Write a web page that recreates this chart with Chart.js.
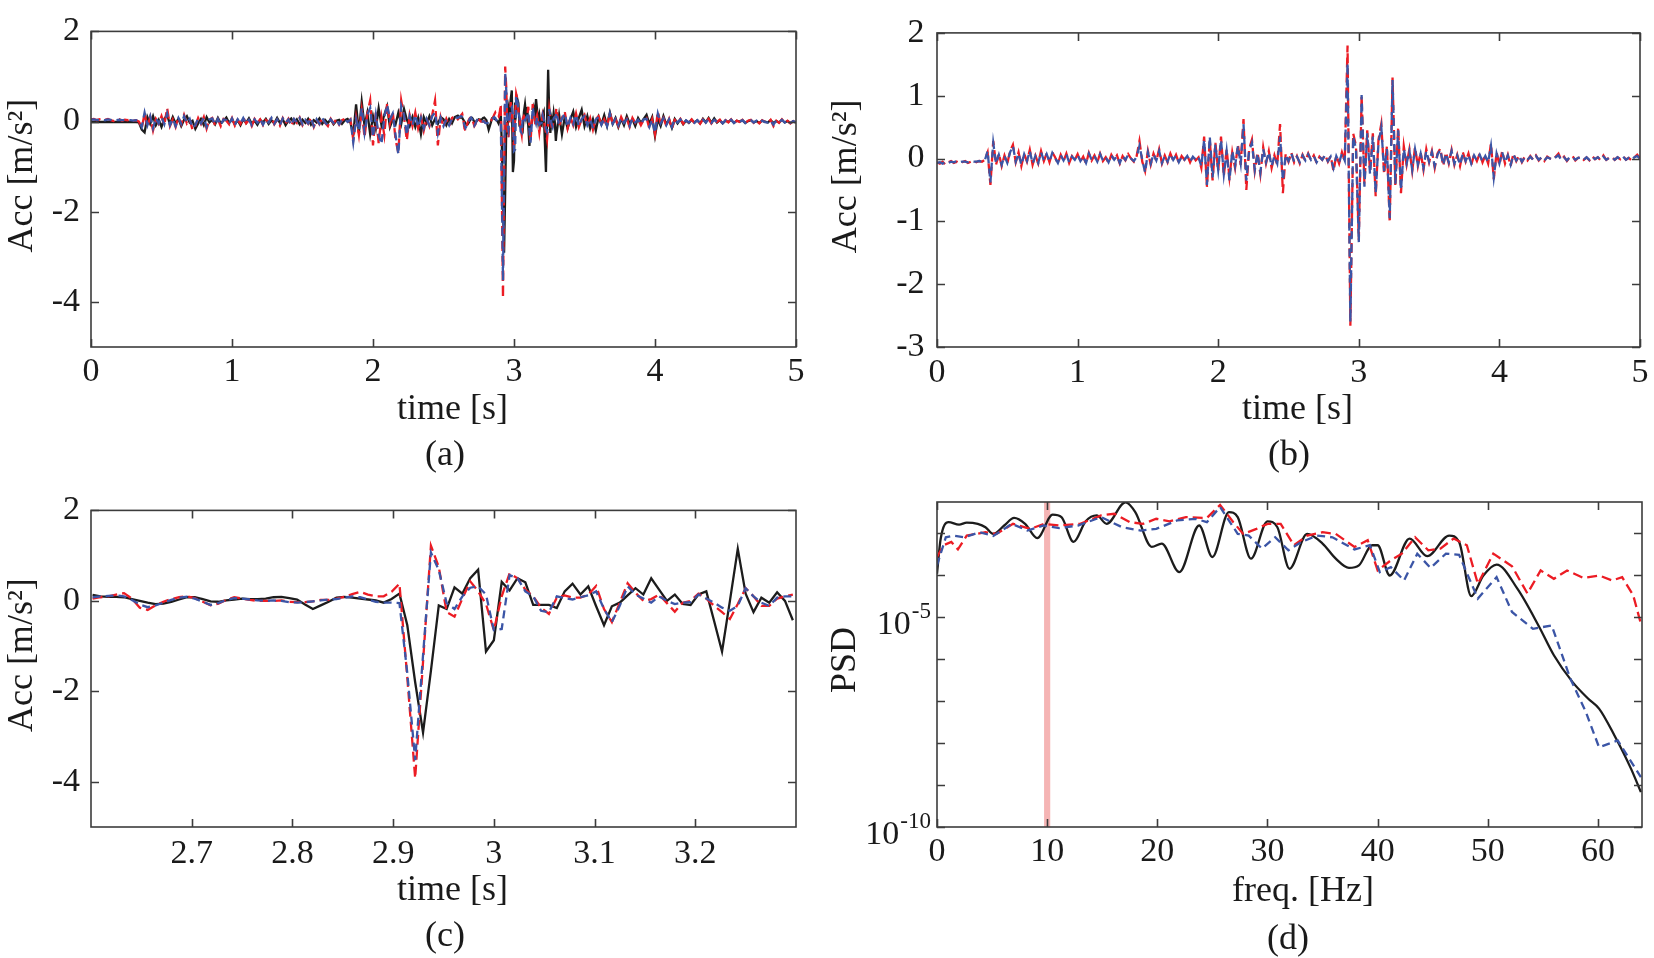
<!DOCTYPE html>
<html>
<head>
<meta charset="utf-8">
<script src="https://cdn.jsdelivr.net/npm/chart.js@4.4.0/dist/chart.umd.min.js"></script>
<style>
  body { margin: 0; background: #fff; width: 1654px; height: 958px; position: relative; overflow: hidden; }
  canvas { position: absolute; }
  .tag { position: absolute; width: 200px; text-align: center; font: 36px/36px 'Liberation Serif', serif; color: #1a1a1a; }
</style>
</head>
<body>
<canvas id="pa" width="827" height="479" style="left:0;top:0"></canvas>
<canvas id="pb" width="827" height="479" style="left:827px;top:0"></canvas>
<canvas id="pc" width="827" height="479" style="left:0;top:479px"></canvas>
<canvas id="pd" width="827" height="479" style="left:827px;top:479px"></canvas>
<div class="tag" style="left:345px;top:435px">(a)</div>
<div class="tag" style="left:1189px;top:435px">(b)</div>
<div class="tag" style="left:345px;top:916px">(c)</div>
<div class="tag" style="left:1188px;top:919px">(d)</div>
<script>
// sampling used for the time histories
const coarseStep = 0.02;          // s, read-off step outside the zoomed window
const fineStart = 333 / 128;      // first 128 Hz sample inside 2.6 ... 3.3 s
const fineStep = 1 / 128;
const postStart = 3.30;

// ---- panel (a) black / red / blue, 0.00 ... 2.58 s
const blackPre = [
  -0.01,-0.01,-0.01,-0.01,-0.01,-0.01,-0.01,-0.01,-0.01,-0.01,
  -0.01,-0.01,-0.01,-0.01,-0.01,-0.01,-0.01,-0.02,-0.18,-0.24,
  0.10,-0.05,0.12,-0.08,0.04,-0.12,0.06,0.14,-0.06,0.10,
  -0.04,0.06,-0.10,0.04,0.12,-0.02,0.02,-0.16,-0.04,0.06,
  -0.08,0.10,-0.02,0.04,-0.06,0.08,-0.04,0.02,0.09,-0.03,
  0.05,-0.06,0.03,-0.08,0.05,-0.03,0.07,-0.05,0.02,-0.07,
  0.04,-0.02,0.06,-0.05,0.03,-0.04,0.08,-0.03,0.05,-0.08,
  0.02,0.07,-0.04,0.05,-0.06,0.04,-0.03,0.06,-0.07,0.03,
  -0.02,0.07,-0.05,0.04,-0.03,0.05,-0.06,0.02,0.04,-0.05,
  0.03,0.06,-0.02,-0.30,0.38,-0.25,0.44,-0.10,0.20,-0.28,
  0.12,-0.15,0.30,-0.08,0.15,0.34,-0.12,0.05,-0.06,0.20,
  -0.05,0.28,0.04,-0.10,0.10,-0.12,0.08,-0.28,0.10,-0.04,
  0.12,-0.08,0.06,-0.05,0.10,0.05,-0.08,0.06,-0.04,0.10
];
const redPre = [
  0.05,0.06,0.03,0.05,0.02,0.04,0.06,0.03,0.01,0.04,
  0.05,0.02,0.04,0.03,0.05,0.02,0.03,0.00,-0.15,0.18,
  -0.12,0.10,-0.20,0.06,-0.05,0.12,-0.08,0.30,-0.10,0.05,
  -0.12,0.10,-0.06,0.15,-0.04,0.05,-0.18,-0.10,0.08,-0.05,
  0.10,-0.16,0.04,0.08,-0.08,0.05,-0.10,0.06,0.02,-0.06,
  0.08,-0.09,0.04,-0.05,0.10,-0.04,0.03,-0.10,0.06,-0.03,
  0.05,-0.08,0.04,-0.02,0.10,-0.06,0.04,-0.09,0.08,-0.04,
  0.06,-0.10,0.05,-0.03,0.09,-0.08,0.03,-0.05,0.10,-0.12,
  0.04,-0.06,0.09,-0.03,-0.10,0.06,-0.04,0.05,-0.07,0.03,
  0.06,-0.02,0.05,-0.40,0.10,-0.30,0.25,-0.35,0.18,0.47,
  -0.53,0.20,-0.48,0.10,-0.30,0.40,-0.05,0.22,-0.40,-0.70,
  0.47,0.10,-0.42,0.15,-0.10,0.20,-0.15,0.10,-0.20,0.08,
  -0.10,0.15,0.47,-0.53,0.10,-0.12,0.06,-0.10,0.08,0.12
];
const bluePre = [
  0.04,0.05,0.04,0.03,0.04,0.03,0.05,0.04,0.02,0.03,
  0.04,0.03,0.03,0.04,0.03,0.02,0.03,0.01,-0.12,0.20,
  -0.08,0.12,-0.15,0.08,-0.04,0.10,-0.06,0.18,-0.08,0.06,
  -0.10,0.08,-0.05,0.12,-0.03,0.06,-0.14,-0.08,0.07,-0.04,
  0.09,-0.12,0.05,0.07,-0.07,0.06,-0.08,0.05,0.03,-0.05,
  0.07,-0.08,0.05,-0.04,0.08,-0.04,0.04,-0.08,0.05,-0.03,
  0.06,-0.07,0.05,-0.02,0.08,-0.05,0.05,-0.08,0.07,-0.03,
  0.05,-0.08,0.06,-0.02,0.08,-0.06,0.04,-0.04,0.08,-0.10,
  0.05,-0.05,0.08,-0.02,-0.08,0.05,-0.03,0.04,-0.06,0.04,
  0.05,-0.01,0.04,-0.46,0.05,-0.20,0.30,-0.25,0.15,0.30,
  -0.35,0.15,-0.30,-0.50,0.10,0.37,0.05,0.18,-0.30,-0.73,
  0.35,0.15,-0.30,0.12,-0.08,0.15,-0.12,0.08,-0.15,0.06,
  -0.08,0.12,0.20,-0.25,0.08,-0.10,0.05,-0.08,0.06,0.10
];

// ---- 128 Hz window 2.60 ... 3.30 s (panel (c), also used in (a))
const blackWin = [
  0.13,0.10,0.09,0.09,0.08,0.04,0.00,-0.04,-0.07,-0.06,
  -0.02,0.03,0.08,0.08,0.04,-0.01,-0.02,0.01,0.03,0.05,
  0.04,0.04,0.05,0.08,0.09,0.06,0.03,-0.08,-0.18,-0.10,
  -0.02,0.07,0.09,0.07,0.05,0.03,0.01,-0.04,0.04,0.16,
  -0.54,-1.80,-2.91,-1.55,-0.10,-0.18,0.30,0.16,0.50,0.69,
  -1.12,-0.87,0.42,0.23,0.50,0.41,-0.09,-0.09,-0.09,-0.16,
  0.21,0.38,0.14,0.32,-0.12,-0.54,-0.12,-0.04,0.12,0.28,
  0.14,0.50,0.25,0.00,0.14,-0.07,-0.09,0.14,0.21,-0.45,
  -1.12,0.00,1.15,0.16,-0.25,0.07,-0.04,0.19,0.00,-0.43
];
const redWin = [
  0.05,0.08,0.10,0.14,0.17,0.05,-0.15,-0.20,-0.10,-0.02,
  0.04,0.08,0.10,0.06,-0.02,-0.10,-0.06,0.02,0.08,0.05,
  0.02,0.00,0.00,0.00,0.01,-0.02,-0.03,-0.03,-0.01,0.02,
  0.02,0.05,0.09,0.15,0.20,0.14,0.10,0.10,0.20,0.38,
  -1.70,-3.92,-1.35,1.22,0.75,-0.25,-0.35,0.05,0.43,0.21,
  -0.07,-0.65,0.10,0.61,0.50,0.25,0.10,-0.15,-0.29,0.07,
  0.12,0.07,0.07,0.14,0.33,-0.18,-0.47,-0.04,0.39,0.18,
  0.00,0.04,0.14,-0.05,-0.24,-0.04,0.00,0.16,0.05,-0.11,
  -0.25,-0.40,-0.07,0.28,0.10,-0.11,-0.11,0.05,0.10,0.14
];
const blueWin = [
  0.08,0.10,0.11,0.12,0.10,0.02,-0.08,-0.14,-0.10,-0.04,
  0.02,0.07,0.09,0.05,-0.02,-0.09,-0.05,0.02,0.06,0.05,
  0.03,0.01,0.00,0.01,0.00,-0.03,-0.04,-0.03,-0.01,0.01,
  0.03,0.04,0.07,0.10,0.08,0.03,-0.02,-0.04,-0.04,-0.05,
  -1.60,-3.52,-1.20,1.07,0.68,-0.05,-0.18,0.10,0.29,0.32,
  0.14,-0.65,-0.62,0.57,0.50,0.21,0.10,-0.22,-0.25,0.10,
  0.06,0.03,0.08,0.12,0.21,-0.18,-0.47,-0.11,0.32,0.14,
  0.05,-0.04,0.10,0.00,-0.07,-0.04,-0.03,0.14,0.05,-0.04,
  -0.15,-0.22,-0.11,0.28,0.10,-0.04,-0.11,0.07,0.10,0.10
];

// ---- panel (a), 3.30 ... 5.00 s
const blackPost = [
  -0.30,0.15,-0.28,0.10,-0.15,0.05,0.22,-0.12,0.08,0.26,
  -0.10,0.12,-0.15,0.05,-0.20,0.10,-0.06,0.14,-0.10,0.20,
  -0.05,0.08,-0.12,0.06,-0.08,0.12,-0.04,0.05,-0.10,0.08,
  -0.03,0.06,0.15,-0.05,0.10,-0.32,0.05,-0.10,0.12,-0.06,
  0.04,-0.14,0.06,-0.04,0.05,-0.06,0.02,-0.03,0.04,-0.02,
  0.03,-0.04,0.06,-0.02,0.08,-0.03,0.07,-0.02,0.03,-0.04,
  0.02,-0.01,0.04,-0.03,0.02,0.00,0.03,-0.03,0.01,0.03,
  -0.02,0.01,-0.03,0.02,0.00,-0.02,0.03,-0.03,0.01,-0.02,
  0.04,-0.02,0.01,-0.03,0.00,-0.02
];
const redPost = [
  0.30,-0.10,0.08,0.22,-0.15,0.10,-0.08,0.18,-0.12,0.05,
  0.15,-0.10,0.08,-0.18,0.06,0.12,-0.08,0.05,-0.12,0.22,
  -0.06,0.05,-0.10,0.10,-0.04,0.06,-0.12,0.08,-0.03,0.05,
  -0.08,0.04,0.08,-0.15,0.05,-0.28,0.22,-0.05,0.08,-0.10,
  0.06,-0.16,0.04,-0.02,0.06,-0.05,0.04,-0.02,0.05,-0.04,
  0.03,-0.05,0.05,-0.02,0.06,-0.04,0.05,-0.01,0.04,-0.05,
  0.03,-0.02,0.05,-0.04,0.02,-0.01,0.04,-0.04,0.02,0.04,
  -0.03,0.02,-0.04,0.03,-0.01,-0.03,0.04,-0.10,0.02,-0.03,
  0.05,-0.03,0.02,-0.04,0.01,-0.03
];
const bluePost = [
  0.20,-0.08,0.06,0.18,-0.12,0.08,-0.06,0.15,-0.10,0.06,
  0.12,-0.08,0.06,-0.15,0.05,0.10,-0.07,0.06,-0.10,0.18,
  -0.05,0.06,-0.08,0.08,-0.03,0.05,-0.10,0.07,-0.02,0.04,
  -0.06,0.05,0.06,-0.12,0.04,-0.25,0.18,-0.04,0.07,-0.08,
  0.05,-0.12,0.05,-0.02,0.05,-0.04,0.03,-0.02,0.04,-0.03,
  0.03,-0.04,0.04,-0.02,0.05,-0.03,0.04,-0.01,0.03,-0.04,
  0.03,-0.02,0.04,-0.03,0.02,-0.01,0.03,-0.03,0.02,0.03,
  -0.02,0.02,-0.03,0.02,-0.01,-0.02,0.03,-0.07,0.02,-0.02,
  0.04,-0.02,0.02,-0.03,0.01,-0.02
];

// ---- panel (b), 0.00 ... 5.00 s, step 0.02 s
const redB = [
  -0.06,-0.08,-0.05,-0.10,-0.06,-0.04,-0.07,-0.05,-0.08,-0.06,
  -0.04,-0.07,-0.05,-0.03,-0.06,-0.04,-0.05,-0.02,0.10,-0.42,
  0.28,-0.10,0.08,-0.12,0.05,-0.08,0.12,0.22,-0.06,0.10,
  -0.12,0.08,-0.05,0.14,-0.10,0.05,-0.08,0.12,-0.04,0.08,
  -0.06,0.10,0.02,-0.08,0.06,-0.04,0.08,-0.07,0.04,-0.02,
  0.07,-0.05,0.03,-0.08,0.09,-0.03,0.05,-0.06,0.08,-0.04,
  0.02,-0.07,0.06,-0.02,0.05,-0.08,0.04,-0.03,0.07,0.00,
  -0.05,0.04,0.28,-0.05,-0.20,0.12,-0.10,0.08,-0.04,0.15,
  -0.08,0.05,-0.06,0.08,-0.03,0.06,-0.07,0.04,-0.02,0.05,
  -0.06,0.04,-0.03,0.02,-0.15,0.35,-0.45,0.30,-0.35,0.25,
  -0.20,0.35,-0.28,0.15,-0.30,0.10,-0.15,0.22,-0.10,0.63,
  -0.50,0.15,0.30,-0.20,0.10,-0.25,0.18,-0.08,0.12,-0.15,
  0.05,-0.10,0.55,-0.55,0.08,-0.05,0.10,-0.06,0.04,-0.08,
  0.06,-0.04,0.08,-0.03,0.05,-0.07,0.03,-0.02,0.06,-0.05,
  0.04,-0.20,0.05,-0.08,0.10,-0.04,1.80,-2.66,0.40,0.20,
  -1.30,1.00,-0.40,0.45,-0.20,0.40,-0.60,0.30,0.55,-0.25,
  0.20,-1.02,1.29,-0.45,0.50,-0.55,0.20,-0.10,0.15,-0.20,
  0.18,-0.12,0.10,-0.18,0.15,-0.06,0.12,-0.15,0.08,0.16,
  -0.12,0.10,-0.08,0.14,-0.10,0.06,-0.12,0.10,-0.05,0.08,
  -0.10,0.06,-0.04,0.08,-0.06,0.05,-0.08,0.24,-0.33,0.10,
  -0.10,0.12,-0.08,0.06,-0.12,0.08,-0.04,0.05,-0.06,0.03,
  -0.03,0.04,-0.02,0.05,-0.03,0.02,-0.04,0.03,0.00,-0.02,
  0.03,0.08,-0.02,0.03,-0.04,0.02,0.04,-0.03,0.01,0.03,
  -0.02,0.02,-0.03,0.04,-0.01,0.02,-0.03,0.05,-0.02,0.01,
  0.03,-0.02,0.02,-0.01,0.04,-0.02,0.01,-0.03,0.02,0.06,
  0.00
];
const blueB = [
  -0.07,-0.06,-0.08,-0.05,-0.07,-0.05,-0.06,-0.04,-0.06,-0.05,
  -0.05,-0.06,-0.04,-0.05,-0.05,-0.04,-0.05,-0.03,0.12,-0.38,
  0.25,-0.08,0.06,-0.10,0.04,-0.07,0.10,0.20,-0.05,0.08,
  -0.10,0.07,-0.04,0.12,-0.08,0.04,-0.07,0.10,-0.03,0.07,
  -0.05,0.09,0.01,-0.07,0.05,-0.03,0.07,-0.06,0.03,-0.02,
  0.06,-0.04,0.03,-0.07,0.08,-0.02,0.04,-0.05,0.07,-0.03,
  0.02,-0.06,0.05,-0.02,0.04,-0.07,0.04,-0.02,0.06,0.00,
  -0.04,0.03,0.20,-0.02,-0.22,0.10,-0.08,0.07,-0.03,0.12,
  -0.07,0.04,-0.05,0.07,-0.02,0.05,-0.06,0.03,-0.02,0.04,
  -0.05,0.03,-0.02,0.02,-0.12,0.30,-0.42,0.35,-0.30,0.22,
  -0.18,0.30,-0.25,0.12,-0.35,0.12,-0.12,0.20,-0.08,0.55,
  -0.35,0.12,0.25,-0.18,0.08,-0.22,0.15,-0.06,0.10,-0.12,
  0.04,-0.08,0.35,-0.35,0.06,-0.04,0.08,-0.05,0.03,-0.06,
  0.05,-0.03,0.07,-0.02,0.04,-0.06,0.03,-0.02,0.05,-0.04,
  0.03,-0.15,0.04,-0.06,0.08,-0.03,1.52,-2.60,0.35,0.15,
  -1.33,1.01,-0.45,0.40,-0.25,0.35,-0.55,0.25,0.50,-0.20,
  0.15,-0.95,1.25,-0.40,0.45,-0.50,0.15,-0.08,0.12,-0.18,
  0.15,-0.10,0.08,-0.15,0.12,-0.05,0.10,-0.12,0.06,0.14,
  -0.10,0.08,-0.06,0.12,-0.08,0.05,-0.10,0.08,-0.04,0.06,
  -0.08,0.05,-0.03,0.06,-0.05,0.04,-0.06,0.20,-0.30,0.08,
  -0.08,0.10,-0.06,0.05,-0.10,0.06,-0.03,0.04,-0.05,0.02,
  -0.02,0.03,-0.02,0.04,-0.02,0.02,-0.03,0.02,0.00,-0.02,
  0.02,0.05,-0.02,0.02,-0.03,0.02,0.03,-0.02,0.01,0.02,
  -0.02,0.02,-0.02,0.03,-0.01,0.02,-0.02,0.03,-0.02,0.01,
  0.02,-0.02,0.02,-0.01,0.03,-0.02,0.01,-0.02,0.02,0.04,
  0.00
];

// ---- panel (d): PSD, frequency [Hz] and log10(PSD)
const psdFreqBlack = [0,0.33,1.05,2.0,2.7,3.7,4.4,5.1,6.1,7.0,8.0,9.1,10.5,11.3,12.4,13.5,14.5,15.4,17.1,18.0,
  19.5,20.4,22.0,23.8,25.0,26.5,27.3,28.5,30.0,30.9,32.0,33.6,35.0,36.2,37.4,38.3,39.5,40.0,41.1,42.9,
  44.5,46.5,47.4,48.5,49.6,50.8,52.7,54.6,56.0,57.7,59.1,60.1,61.5,63.0,63.9];
const psdBlackLog = [-3.97,-3.14,-2.74,-2.80,-2.75,-2.78,-2.86,-3.02,-2.82,-2.64,-2.78,-3.12,-2.56,-2.62,-3.21,-2.72,-2.58,-2.78,-2.27,-2.50,
  -3.33,-3.25,-3.93,-2.82,-3.57,-2.50,-2.62,-3.61,-2.72,-2.86,-3.85,-3.02,-3.25,-3.61,-3.83,-3.77,-3.29,-3.29,-4.01,-3.13,
  -3.55,-3.06,-3.21,-4.50,-4.01,-3.75,-4.33,-5.20,-5.91,-6.55,-6.94,-7.18,-7.82,-8.61,-9.17];
const psdFreqRed = [0,0.6,1.3,1.9,2.7,4.4,5.4,6.9,8.5,9.7,11.1,13.0,14.9,16.1,17.5,18.7,19.9,21.1,22.6,24.5,
  25.7,26.9,27.8,29.0,30.0,31.2,32.4,33.6,35.0,36.2,37.9,39.1,40.0,41.2,42.2,43.4,44.6,45.7,46.9,48.1,
  49.1,50.5,52.2,53.6,54.8,56.0,57.2,58.7,60.1,61.3,62.2,63.2,63.9];
const psdRedLog = [-3.57,-3.29,-3.21,-3.39,-3.06,-2.98,-3.02,-2.78,-2.90,-2.78,-2.82,-2.78,-2.58,-2.54,-2.74,-2.78,-2.66,-2.72,-2.62,-2.64,
  -2.33,-2.74,-3.02,-2.90,-2.78,-2.78,-3.29,-3.06,-2.98,-3.02,-3.33,-3.17,-3.89,-3.65,-3.49,-3.10,-3.41,-3.37,-3.13,-3.29,
  -4.21,-3.49,-3.79,-4.44,-3.89,-4.09,-3.89,-4.07,-4.01,-4.13,-4.05,-4.48,-5.16];
const psdFreqBlue = [0,0.8,1.5,2.5,3.9,5.1,6.8,8.2,9.7,11.1,12.8,14.9,16.8,18.5,19.9,21.8,23.5,24.5,25.7,27.3,
  28.3,29.5,30.7,31.9,33.1,34.5,35.9,37.9,39.3,40.2,41.2,42.4,43.6,44.8,46.2,47.4,49.1,50.8,52.2,54.1,
  55.8,57.5,58.9,60.1,61.8,63.9];
const psdBlueLog = [-3.77,-3.10,-3.06,-3.10,-2.98,-3.07,-2.78,-2.94,-2.82,-2.88,-2.82,-2.62,-2.86,-2.94,-2.90,-2.70,-2.66,-2.74,-2.38,-3.02,
  -3.06,-3.37,-3.10,-3.41,-3.21,-3.06,-3.10,-3.39,-3.29,-3.93,-3.81,-4.13,-3.49,-3.83,-3.49,-3.52,-4.56,-4.05,-4.88,-5.28,
  -5.20,-6.47,-7.26,-8.10,-7.94,-8.81];
const psdBand = [9.72, 10.28];

// axis ticks
const ticksTime = [0, 1, 2, 3, 4, 5];
const ticksZoom = [2.7, 2.8, 2.9, 3, 3.1, 3.2];
const ticksFreq = [0, 10, 20, 30, 40, 50, 60];
const ticksAccA = [-4, -2, 0, 2];
const ticksAccB = [-3, -2, -1, 0, 1, 2];
const psdTickExps = [-10, -9, -8, -7, -6, -5, -4, -3];
const psdLabelExps = [-10, -5];
const psdTopExp = -2.26;

const ink = '#1a1a1a';
const serif = "'Liberation Serif', serif";
const tickFont = { family: serif, size: 34 };
const titleFont = { family: serif, size: 36, lineHeight: 1 };

const black = { borderColor: '#1c1c1c', borderWidth: 2.3 };
const red = { borderColor: '#ec1c24', borderWidth: 2.3, borderDash: [10, 5] };
const blue = { borderColor: '#3b55a6', borderWidth: 2.3, borderDash: [8, 5] };

const pts = (t0, dt, vals) => vals.map((v, i) => ({ x: t0 + i * dt, y: v }));
const fullA = (pre, win, post) =>
  pts(0, coarseStep, pre).concat(pts(fineStart, fineStep, win), pts(postStart, coarseStep, post));
const psd = (f, lg) => f.map((v, i) => ({ x: v, y: Math.pow(10, lg[i]) }));

// box with inward ticks on all four sides
const boxPlugin = {
  id: 'box',
  afterDatasetsDraw(chart) {
    const { ctx, chartArea: a, scales } = chart;
    const tl = 8;
    ctx.save();
    ctx.strokeStyle = '#3c3c3c';
    ctx.lineWidth = 1.6;
    ctx.beginPath();
    scales.x.ticks.forEach(t => {
      const px = Math.round(scales.x.getPixelForValue(t.value)) + 0.5;
      ctx.moveTo(px, a.bottom); ctx.lineTo(px, a.bottom - tl);
      ctx.moveTo(px, a.top); ctx.lineTo(px, a.top + tl);
    });
    scales.y.ticks.forEach(t => {
      const py = Math.round(scales.y.getPixelForValue(t.value)) + 0.5;
      ctx.moveTo(a.left, py); ctx.lineTo(a.left + tl, py);
      ctx.moveTo(a.right, py); ctx.lineTo(a.right - tl, py);
    });
    ctx.stroke();
    ctx.strokeRect(a.left, a.top, a.right - a.left, a.bottom - a.top);
    ctx.restore();
  }
};

// shaded frequency band in (d)
const bandPlugin = {
  id: 'band',
  beforeDatasetsDraw(chart) {
    const { ctx, chartArea: a, scales } = chart;
    const l = scales.x.getPixelForValue(psdBand[0]);
    const r = scales.x.getPixelForValue(psdBand[1]);
    ctx.save();
    ctx.fillStyle = '#f5b4b4';
    ctx.fillRect(l, a.top, r - l, a.bottom - a.top);
    ctx.restore();
  }
};

// 10^n labels for the log axis
const expLabels = {
  id: 'expLabels',
  afterDraw(chart) {
    const { ctx, chartArea: a, scales } = chart;
    ctx.save();
    ctx.fillStyle = ink;
    ctx.textAlign = 'right';
    ctx.textBaseline = 'alphabetic';
    psdLabelExps.forEach(e => {
      const py = scales.y.getPixelForValue(Math.pow(10, e));
      ctx.font = "23px 'Liberation Serif'";
      const sup = String(e);
      const sx = a.left - 6;
      ctx.fillText(sup, sx, py + 1);
      const w = ctx.measureText(sup).width;
      ctx.font = "34px 'Liberation Serif'";
      ctx.fillText('10', sx - w - 1, py + 17);
    });
    ctx.restore();
  }
};

function xAxis(min, max, tickVals, title, h, tickPad, titlePad) {
  return {
    type: 'linear', min: min, max: max,
    afterBuildTicks: s => { s.ticks = tickVals.map(v => ({ value: v })); },
    afterFit: s => { s.height = h; },
    grid: { display: false, drawTicks: false },
    border: { display: false },
    ticks: { padding: tickPad, maxRotation: 0, autoSkip: false, font: tickFont, color: ink, callback: v => String(v) },
    title: { display: true, text: title, font: titleFont, color: ink, padding: { top: 0, bottom: titlePad } }
  };
}

function yAxis(min, max, tickVals, title, w, tickPad, titlePad) {
  return {
    type: 'linear', min: min, max: max,
    afterBuildTicks: s => { s.ticks = tickVals.map(v => ({ value: v })); },
    afterFit: s => { s.width = w; },
    grid: { display: false, drawTicks: false },
    border: { display: false },
    ticks: { padding: tickPad, autoSkip: false, font: tickFont, color: ink, callback: v => String(v) },
    title: { display: true, text: title, font: titleFont, color: ink, padding: { top: titlePad, bottom: 0 } }
  };
}

function makeChart(id, top, right, datasets, sx, sy, extra) {
  return new Chart(document.getElementById(id), {
    type: 'line',
    data: { datasets: datasets },
    options: {
      responsive: false,
      animation: false,
      devicePixelRatio: 1,
      layout: { padding: { left: 0, top: top, right: right, bottom: 0 } },
      plugins: { legend: { display: false }, tooltip: { enabled: false } },
      elements: { point: { radius: 0 }, line: { tension: 0 } },
      scales: { x: sx, y: sy }
    },
    plugins: [boxPlugin].concat(extra || [])
  });
}

// (a)
makeChart('pa', 22, 31, [
  Object.assign({ data: fullA(bluePre, blueWin, bluePost) }, blue),
  Object.assign({ data: fullA(redPre, redWin, redPost) }, red),
  Object.assign({ data: fullA(blackPre, blackWin, blackPost) }, black)
],
  xAxis(0, 5, ticksTime, '  time [s]', 132, 5, 51.5),
  yAxis(-5, 2, ticksAccA, '   Acc [m/s²]', 91, 11, 4.5));

// (b)
makeChart('pb', 22, 12, [
  Object.assign({ data: pts(0, coarseStep, blueB) }, blue),
  Object.assign({ data: pts(0, coarseStep, redB) }, red)
],
  xAxis(0, 5, ticksTime, '  time [s]', 132, 5.5, 51.5),
  yAxis(-3, 2, ticksAccB, '   Acc [m/s²]', 110, 12.5, 1.5));

// (c)
makeChart('pc', 23, 31, [
  Object.assign({ data: pts(fineStart, fineStep, blueWin) }, blue),
  Object.assign({ data: pts(fineStart, fineStep, redWin) }, red),
  Object.assign({ data: pts(fineStart, fineStep, blackWin) }, black)
],
  xAxis(2.6, 3.3, ticksZoom, '  time [s]', 131, 6.5, 49),
  yAxis(-5, 2, ticksAccA, '   Acc [m/s²]', 91, 11, 4.5));

// (d)
const psdY = {
  type: 'logarithmic', min: 1e-10, max: Math.pow(10, psdTopExp),
  afterBuildTicks: s => { s.ticks = psdTickExps.map(e => ({ value: Math.pow(10, e) })); },
  afterFit: s => { s.width = 110; },
  grid: { display: false, drawTicks: false },
  border: { display: false },
  ticks: { display: false },
  title: { display: true, text: ' PSD', font: titleFont, color: ink, padding: { top: 0.5, bottom: 0 } }
};
makeChart('pd', 23, 12, [
  Object.assign({ data: psd(psdFreqBlue, psdBlueLog) }, blue),
  Object.assign({ data: psd(psdFreqRed, psdRedLog) }, red),
  Object.assign({ data: psd(psdFreqBlack, psdBlackLog), cubicInterpolationMode: 'monotone' }, black)
],
  xAxis(0, 64, ticksFreq, '   freq. [Hz]', 131, 4.5, 48),
  psdY, [bandPlugin, expLabels]);
</script>
</body>
</html>
